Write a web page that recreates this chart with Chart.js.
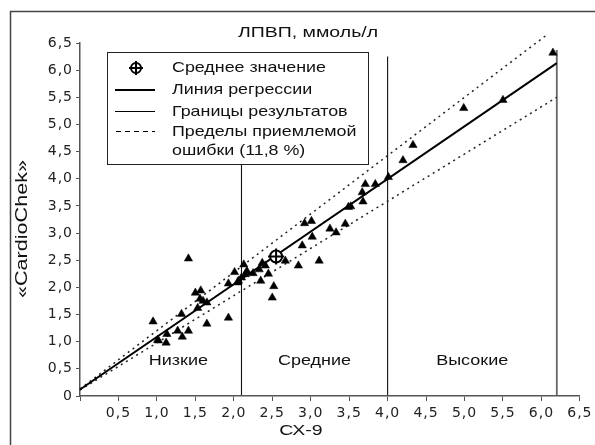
<!DOCTYPE html>
<html>
<head>
<meta charset="utf-8">
<script src="https://cdn.jsdelivr.net/npm/chart.js@4.4.1/dist/chart.umd.min.js"></script>
<style>
  html, body { margin: 0; padding: 0; background: #fff; }
  #wrap { position: relative; width: 595px; height: 445px; }
  canvas { display: block; }
</style>
</head>
<body>
<div id="wrap"><canvas id="c" width="595" height="445"></canvas></div>
<script>
// ---- data ----
const ptsX = [0.95,1.01,1.02,1.12,1.13,1.27,1.33,1.41,1.32,1.41,1.50,1.57,1.56,1.60,1.65,1.53,1.65,1.93,1.93,
              2.01,2.06,2.05,2.10,2.13,2.15,2.17,2.25,2.33,2.37,2.41,2.35,2.45,2.52,2.50,2.67,2.84,2.89,
              2.92,3.01,3.02,3.11,3.25,3.33,3.45,3.49,3.52,3.67,3.68,3.71,3.84,4.01,4.20,4.33,4.99,5.50,6.15];
const ptsY = [1.37,1.03,1.02,0.98,1.14,1.20,1.09,1.20,1.51,2.53,1.90,1.94,1.79,1.75,1.72,1.62,1.33,1.44,2.07,
              2.28,2.12,2.09,2.18,2.42,2.24,2.30,2.26,2.33,2.45,2.40,2.12,2.25,2.02,1.81,2.49,2.40,2.77,
              3.18,3.22,2.93,2.49,3.08,3.01,3.17,3.48,3.49,3.75,3.58,3.90,3.90,4.03,4.34,4.62,5.30,5.45,6.32];
const meanX = [2.55];
const meanY = [2.57];
const regX = [0, 6.2];
const regY = [0.12, 6.13];
const upX = [0, 6.07];
const upY = [0.13, 6.65];
const loX = [0, 6.2];
const loY = [0.11, 5.5];
const boundX = [2.1, 4.0, 6.2];
const boundTop = [6.25, 6.25, 6.37];
const xTickLabels = ['', '0,5', '1,0', '1,5', '2,0', '2,5', '3,0', '3,5', '4,0', '4,5', '5,0', '5,5', '6,0', '6,5'];
const yTickLabels = ['0', '0,5', '1,0', '1,5', '2,0', '2,5', '3,0', '3,5', '4,0', '4,5', '5,0', '5,5', '6,0', '6,5'];
const regionNames = ['Низкие', 'Средние', 'Высокие'];
const regionCenters = [1.28, 3.05, 5.1];
const titleText = 'ЛПВП, ммоль/л';
const xTitle = 'СХ-9';
const yTitle = '«CardioChek»';
const legendItems = ['Среднее значение', 'Линия регрессии', 'Границы результатов', 'Пределы приемлемой', 'ошибки (11,8 %)'];

const zip = (xs, ys) => xs.map((x, i) => ({x: x, y: ys[i]}));
const FONT = '"Liberation Sans", Arial, sans-serif';
const TICKFONT = '"DejaVu Sans", "Liberation Sans", sans-serif';

const datasets = [];
boundX.forEach((bx, i) => {
  datasets.push({
    type: 'line', data: [{x: bx, y: 0.02}, {x: bx, y: boundTop[i]}],
    borderColor: i === 2 ? '#666' : '#111', borderWidth: i === 2 ? 1.8 : 1.1,
    pointRadius: 0, fill: false, order: 5
  });
});
datasets.push({ type: 'line', data: zip(upX, upY), borderColor: '#222', borderWidth: 1.5, borderDash: [2, 4],
  pointRadius: 0, fill: false, clip: false, order: 4 });
datasets.push({ type: 'line', data: zip(loX, loY), borderColor: '#222', borderWidth: 1.5, borderDash: [2, 4],
  pointRadius: 0, fill: false, clip: false, order: 4 });
datasets.push({ type: 'line', data: zip(regX, regY), borderColor: '#000', borderWidth: 2,
  pointRadius: 0, fill: false, clip: false, order: 3 });
datasets.push({ type: 'scatter', data: zip(ptsX, ptsY), pointStyle: 'triangle', pointRadius: 4.8,
  backgroundColor: '#000', borderColor: '#000', borderWidth: 0.5, order: 2 });
datasets.push({ type: 'scatter', data: zip(meanX, meanY), pointStyle: 'circle', pointRadius: 6,
  backgroundColor: '#fff', borderColor: '#000', borderWidth: 2, order: 1 });
datasets.push({ type: 'scatter', data: zip(meanX, meanY), pointStyle: 'cross', pointRadius: 8,
  borderColor: '#000', borderWidth: 2, order: 0 });

function sText(ctx, txt, x, y, sx) {
  ctx.save();
  ctx.translate(x, y);
  ctx.scale(sx, 1);
  ctx.fillText(txt, 0, 0);
  ctx.restore();
}

const spacing = {
  id: 'spacing',
  beforeDraw(chart) { chart.ctx.letterSpacing = '1px'; }
};

const decor = {
  id: 'decor',
  afterDraw(chart) {
    const ctx = chart.ctx;
    const xs = chart.scales.x;
    ctx.save();
    ctx.letterSpacing = '0px';
    // frame
    ctx.strokeStyle = '#444';
    ctx.lineWidth = 1.5;
    ctx.beginPath();
    ctx.moveTo(10.5, 445);
    ctx.lineTo(10.5, 11.5);
    ctx.lineTo(595, 11.5);
    ctx.stroke();

    ctx.fillStyle = '#111';
    ctx.textBaseline = 'middle';
    ctx.textAlign = 'center';
    ctx.font = '15px ' + FONT;
    sText(ctx, titleText, 308, 33, 1.3);
    sText(ctx, xTitle, 301, 431, 1.3);
    regionNames.forEach((n, i) => {
      sText(ctx, n, xs.getPixelForValue(regionCenters[i]), 361, 1.2);
    });
    // y title
    ctx.save();
    ctx.translate(23, 229);
    ctx.rotate(-Math.PI / 2);
    ctx.font = '16px ' + FONT;
    sText(ctx, yTitle, 0, 0, 1.35);
    ctx.restore();

    // legend
    const L = 107.5, T = 52.5, W = 261, H = 112;
    ctx.fillStyle = '#fff';
    ctx.fillRect(L, T, W, H);
    ctx.strokeStyle = '#222';
    ctx.lineWidth = 1;
    ctx.strokeRect(L, T, W, H);
    ctx.strokeStyle = '#000';
    ctx.lineWidth = 2;
    ctx.beginPath(); ctx.arc(136, 68, 5, 0, Math.PI * 2); ctx.stroke();
    ctx.beginPath();
    ctx.moveTo(129, 68); ctx.lineTo(143, 68);
    ctx.moveTo(136, 61); ctx.lineTo(136, 75);
    ctx.stroke();
    ctx.lineWidth = 2;
    ctx.beginPath(); ctx.moveTo(115, 90); ctx.lineTo(155, 90); ctx.stroke();
    ctx.lineWidth = 1;
    ctx.beginPath(); ctx.moveTo(115, 111.5); ctx.lineTo(155, 111.5); ctx.stroke();
    ctx.setLineDash([5, 4]);
    ctx.beginPath(); ctx.moveTo(116, 131.5); ctx.lineTo(155, 131.5); ctx.stroke();
    ctx.setLineDash([]);
    ctx.fillStyle = '#111';
    ctx.textAlign = 'left';
    ctx.font = '15px ' + FONT;
    const ly = [68, 90, 112, 132, 151];
    legendItems.forEach((t, i) => sText(ctx, t, 172, ly[i], 1.19));
    ctx.restore();
  }
};

new Chart(document.getElementById('c'), {
  type: 'scatter',
  data: { datasets: datasets },
  options: {
    responsive: false,
    animation: false,
    layout: { padding: { left: 0, top: 43, right: 14, bottom: 0 } },
    plugins: { legend: { display: false }, tooltip: { enabled: false }, title: { display: false } },
    scales: {
      x: {
        type: 'linear', min: 0, max: 6.5,
        afterFit: s => { s.height = 49; },
        border: { display: true, color: '#555', width: 1.5 },
        grid: { drawOnChartArea: false, drawTicks: true, tickLength: 5, color: '#555' },
        ticks: {
          stepSize: 0.5, color: '#222', padding: 4, maxRotation: 0, autoSkip: false,
          font: { family: TICKFONT, size: 14 },
          callback: (v) => xTickLabels[Math.round(v * 2)]
        }
      },
      y: {
        type: 'linear', min: 0, max: 6.5,
        afterFit: s => { s.width = 80; },
        border: { display: true, color: '#555', width: 1.5 },
        grid: { drawOnChartArea: false, drawTicks: true, tickLength: 4, color: '#555' },
        ticks: {
          stepSize: 0.5, color: '#222', padding: 3, autoSkip: false,
          font: { family: TICKFONT, size: 14 },
          callback: (v) => yTickLabels[Math.round(v * 2)]
        }
      }
    }
  },
  plugins: [spacing, decor]
});
</script>
</body>
</html>
